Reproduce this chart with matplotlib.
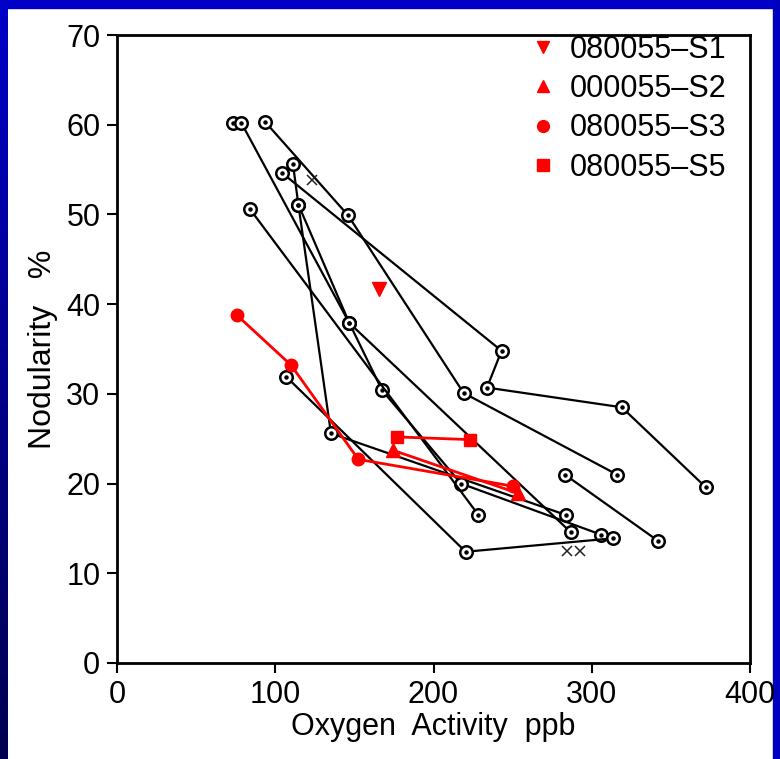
import numpy as np
import matplotlib
matplotlib.use("Agg")
import matplotlib.pyplot as plt
from matplotlib.colors import LinearSegmentedColormap
from matplotlib.lines import Line2D

# ---- data (Oxygen activity ppb, Nodularity %) ----
# black reference heats: polylines
blk_a_x = [73.5]
blk_a_y = [60.2]
blk_b_x = [78.6, 146.8, 286.6]
blk_b_y = [60.2, 37.9, 14.6]
blk_c_x = [93.7, 146.0, 219.0, 316.0]
blk_c_y = [60.3, 49.9, 30.1, 21.0]
blk_d_x = [104.5, 243.0, 233.8, 319.0, 372.0]
blk_d_y = [54.6, 34.8, 30.7, 28.5, 19.6]
blk_e_x = [111.2, 114.6, 135.2, 283.7]
blk_e_y = [55.6, 51.1, 25.6, 16.5]
blk_f_x = [114.6, 146.8, 167.5, 217.4, 306.0]
blk_f_y = [51.1, 37.9, 30.4, 20.0, 14.3]
blk_g_x = [84.0, 228.4]
blk_g_y = [50.6, 16.5]
blk_h_x = [107.0, 220.3, 313.6]
blk_h_y = [31.9, 12.4, 13.9]
blk_i_x = [283.0, 342.0]
blk_i_y = [21.0, 13.6]
black_series = [(blk_a_x, blk_a_y), (blk_b_x, blk_b_y), (blk_c_x, blk_c_y),
                (blk_d_x, blk_d_y), (blk_e_x, blk_e_y), (blk_f_x, blk_f_y),
                (blk_g_x, blk_g_y), (blk_h_x, blk_h_y), (blk_i_x, blk_i_y)]

cross_x = [123.0, 284.4, 292.6]
cross_y = [53.8, 12.5, 12.5]

s1_x = [165.6]
s1_y = [41.7]
s2_x = [174.6, 253.7]
s2_y = [23.7, 18.9]
s3_x = [75.6, 110.0, 152.5, 250.5]
s3_y = [38.8, 33.2, 22.7, 19.7]
s5_x = [176.7, 223.0]
s5_y = [25.2, 24.9]

labels = ["080055\u2013S1", "000055\u2013S2", "080055\u2013S3", "080055\u2013S5"]
x_ticks = [0, 100, 200, 300, 400]
y_ticks = [0, 10, 20, 30, 40, 50, 60, 70]

plt.rcParams['font.family'] = ['Liberation Sans', 'DejaVu Sans']

fig = plt.figure(figsize=(7.8, 7.59), dpi=100)
fig.patch.set_facecolor('white')

# slide background border (blue)
W, H = 780.0, 759.0
top_band = 8
left_band = 8
right_band = 7
fig.add_artist(plt.Rectangle((0, 1 - top_band / H), 1, top_band / H,
                             transform=fig.transFigure, color='#0000c8', zorder=0))
fig.add_artist(plt.Rectangle((1 - right_band / W, 0), right_band / W, 1,
                             transform=fig.transFigure, color='#0000c0', zorder=0))
gax = fig.add_axes([0, 0, left_band / W, 1])
grad = np.linspace(0, 1, 256).reshape(-1, 1)
cmap = LinearSegmentedColormap.from_list('b', ['#0000c8', '#000050'])
gax.imshow(grad, aspect='auto', cmap=cmap, extent=[0, 1, 1, 0])
gax.set_axis_off()

ax = fig.add_axes([117 / W, 96 / H, (750 - 117) / W, (663 - 35) / H])

for xs, ys in black_series:
    ax.plot(xs, ys, color='black', lw=1.6, marker='o', ms=9, mfc='white',
            mec='black', mew=1.8, zorder=3)
    ax.plot(xs, ys, ls='none', marker='o', ms=2.2, color='black', zorder=4)

ax.plot(cross_x, cross_y, ls='none', marker='x', ms=7, mew=1.1, color='#222222', zorder=4)

red = '#ff0000'
ax.plot(s3_x, s3_y, color=red, lw=2.0, marker='o', ms=9, zorder=5)
ax.plot(s2_x, s2_y, color=red, lw=2.0, marker='^', ms=10, zorder=5)
ax.plot(s5_x, s5_y, color=red, lw=2.0, marker='s', ms=9, zorder=5)
ax.plot(s1_x, s1_y, color=red, ls='none', marker='v', ms=10, zorder=5)

handles = [Line2D([], [], ls='none', marker=m, color=red, ms=ms)
           for m, ms in zip(['v', '^', 'o', 's'], [9, 9, 8.5, 8.5])]
ax.legend(handles, labels, loc='upper right', frameon=False, fontsize=22,
          handlelength=0.8, handletextpad=0.45, labelspacing=0.3,
          borderaxespad=0.0, borderpad=0.0,
          bbox_to_anchor=((726 - 117) / 633, (663 - 35) / 628))

ax.set_xlim(0, 400)
ax.set_ylim(0, 70)
ax.set_xticks(x_ticks)
ax.set_yticks(y_ticks)
ax.tick_params(direction='out', length=7, width=1.5, labelsize=22, pad=5,
               top=False, right=False)
for sp in ax.spines.values():
    sp.set_linewidth(2)
ax.set_xlabel('Oxygen  Activity  ppb', fontsize=22, labelpad=2)
ax.set_ylabel('Nodularity   %', fontsize=23, labelpad=6)

fig.savefig('out.png', dpi=100, facecolor=fig.get_facecolor())
